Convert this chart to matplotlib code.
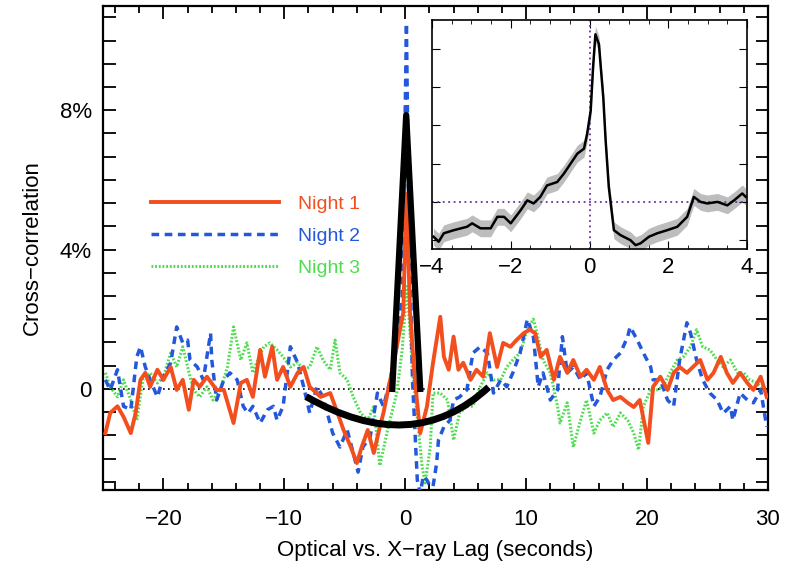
import numpy as np
import matplotlib.pyplot as plt
from matplotlib.path import Path
from matplotlib.patches import PathPatch
from matplotlib.ticker import MultipleLocator, FuncFormatter

plt.rcParams['font.family'] = ['Liberation Sans', 'DejaVu Sans']

# Night 1 (solid orange): lag (s), cross-correlation (%)
n1_lag = [-24.8, -24.4, -23.8, -23.3, -22.7, -22.3, -21.9, -21.5, -21.1, -20.5, -20.0, -19.4,
          -18.9, -18.4, -17.9, -17.5, -17.0, -16.4, -15.6, -15.0, -14.2, -13.6, -13.1, -12.6,
          -12.0, -11.6, -11.0, -10.6, -10.1, -9.5, -8.9, -8.4, -7.9, -7.0, -6.2, -5.6, -5.1,
          -4.5, -4.0, -3.6, -3.1, -2.6, -2.1, -1.8, -1.24, -0.7, -0.16, 0.1, 0.4, 0.8, 1.24,
          1.8, 2.3, 2.9, 3.2, 3.6, 4.0, 4.4, 4.8, 5.4, 5.9, 6.45, 7.0, 7.6, 8.1, 8.7, 9.2, 9.8,
          10.3, 10.75, 11.2, 11.7, 12.3, 12.8, 13.4, 13.9, 14.5, 15.0, 15.6, 16.1, 16.7, 17.2,
          17.8, 18.4, 18.9, 19.4, 20.1, 20.5, 21.1, 21.7, 22.2, 22.7, 23.3, 23.8, 24.4, 25.0,
          25.5, 26.1, 26.6, 27.1, 27.7, 28.3, 28.8, 29.4, 29.9]
n1_cc = [-1.27, -0.69, -0.5, -0.8, -1.27, -0.7, 0.26, 0.46, 0.06, 0.55, 0.26, 0.63,
         -0.03, 0.26, -0.6, 0.26, 0.06, 0.35, -0.03, -0.03, -0.98, 0.17, 0.26, -0.23,
         1.12, 0.35, 1.21, 0.26, 0.63, 0.06, 0.46, 0.63, 0.06, -0.23, -0.12, -0.69, -1.18,
         -1.67, -2.13, -1.67, -1.18, -1.84, -1.09, -0.69, 0.26, 1.21, 2.19, 5.6, 2.19, 0.26, -1.27,
         -0.5, 0.75, 2.07, 0.92, 0.55, 1.5, 0.55, 0.75, 0.26, 0.55, 0.35, 1.6, 0.63, 1.32, 1.21,
         1.4, 1.6, 1.7, 1.6, 0.92, 1.12, 0.26, 0.92, 0.46, 0.83, 0.35, 0.55, 0.26, 0.63, -0.03,
         -0.32, -0.23, -0.4, -0.52, -0.32, -1.55, 0.06, 0.35, -0.03, 0.46, 0.63, 0.46, 0.63,
         0.83, 0.26, 0.46, 0.92, 0.46, 0.17, 0.46, 0.17, -0.03, 0.35, -0.23]

# Night 2 (dashed blue)
n2_lag = [-24.8, -24.4, -23.8, -23.3, -22.7, -22.2, -21.9, -21.5, -21.1, -20.5, -20.0, -19.4,
          -18.9, -18.4, -18.0, -17.8, -17.2, -16.7, -16.1, -16.0, -15.6, -15.0, -14.5, -13.9,
          -13.4, -13.0, -12.6, -12.0, -11.4, -10.9, -10.6, -10.1, -9.5, -8.9, -8.4, -7.9, -7.3,
          -6.8, -6.0, -5.4, -4.8, -4.3, -3.9, -3.5, -2.9, -2.3, -1.8, -1.24, -0.7, -0.25, 0.0,
          0.1, 0.25, 0.6, 0.8, 1.0, 1.24, 1.5, 1.8, 2.07, 2.3, 2.6, 2.75, 3.2, 3.7, 4.0, 4.5,
          5.1, 5.6, 6.2, 6.8, 7.3, 7.9, 8.4, 8.9, 9.5, 10.1, 10.6, 11.0, 11.4, 12.0, 12.6, 13.0,
          13.4, 13.9, 14.5, 15.0, 15.6, 16.1, 16.7, 17.2, 17.8, 18.4, 18.6, 19.2, 19.7, 20.3,
          20.5, 21.1, 21.7, 22.2, 22.7, 23.3, 23.6, 24.1, 24.6, 25.2, 25.8, 26.3, 26.9, 27.1,
          27.7, 28.3, 28.8, 29.4, 29.9]
n2_cc = [0.26, -0.03, 0.55, -0.5, -0.6, 0.92, 1.21, 0.63, 0.26, -0.23, 0.35, 0.75,
         1.78, 1.32, 1.4, 0.83, 0.63, 0.26, 1.6, 0.83, -0.32, 0.26, 0.46, 0.26,
         -0.5, -0.7, -0.5, -0.98, -0.6, -0.5, -0.9, -0.5, 1.21, 0.75, 0.06, -0.69, 0.06,
         -0.23, -1.27, -1.67, -1.18, -1.84, -2.39, -1.67, -1.38, -0.12, -0.5, 0.26, 1.21, 2.65, 8.0,
         10.5, 6.0, 0.26, -1.18, -2.62, -3.0, -2.5, -2.62, -2.8, -2.8, -2.13, -1.47, -1.09, -0.9, -0.32, -0.23,
         -0.03, 1.03, 1.21, 1.03, -0.12, 0.26, 0.06, 0.46, 1.03, 2.0, 1.5, 0.06, 0.46, -0.32, -0.03, 1.5,
         0.46, 0.63, 0.26, 0.46, -0.5, -0.23, 0.55, 0.83, 1.03, 1.5, 1.78, 1.4, 1.03, 0.63,
         0.26, 0.26, -0.32, -0.5, 0.83, 1.9, 1.6, 0.83, 0.26, -0.12, -0.32, -0.7, -0.5, -0.9,
         -0.12, -0.32, -0.4, -0.03, -1.09]

# Night 3 (dotted green)
n3_lag = [-24.8, -24.4, -23.8, -23.3, -22.7, -22.2, -21.7, -21.1, -20.5, -20.0, -19.4, -18.9,
          -18.4, -17.8, -17.5, -17.0, -16.4, -15.9, -15.3, -14.7, -14.2, -13.6, -13.1, -12.6,
          -12.3, -11.7, -11.2, -10.6, -10.1, -9.5, -8.9, -8.4, -7.9, -7.3, -6.8, -6.2, -5.8,
          -5.4, -4.8, -4.3, -3.7, -3.1, -2.6, -2.1, -1.4, -0.7, -0.25, 0.15, 0.6, 1.1, 1.4,
          1.65, 2.07, 2.3, 2.9, 3.5, 4.0, 4.5, 5.1, 5.6, 6.2, 6.8, 7.3, 7.9, 8.4, 8.9, 9.5,
          10.1, 10.6, 10.9, 11.4, 12.0, 12.6, 12.8, 13.4, 13.9, 14.5, 15.0, 15.6, 16.1, 16.7,
          17.2, 17.8, 18.4, 18.9, 19.3, 19.7, 20.3, 20.8, 21.3, 21.9, 22.5, 23.0, 23.6, 24.1,
          24.6, 25.2, 25.8, 26.3, 26.9, 27.5, 28.0, 28.5, 29.1, 29.6]
n3_cc = [0.46, 0.06, -0.23, 0.26, -0.32, -0.9, 0.26, 0.46, 0.17, 0.35, 1.03, 0.63,
         1.21, 0.35, -0.03, -0.23, 0.06, -0.32, -0.03, 0.63, 1.78, 0.83, 1.32, 0.46,
         0.75, 1.21, 1.32, 1.12, 0.92, 0.63, 0.75, 0.55, 0.63, 1.21, 0.83, 0.55, 1.4,
         0.46, 0.26, -0.23, -0.69, -0.9, -0.5, -2.2, -1.09, -0.12, 1.12, 3.0, 0.5, -1.18, -2.24,
         -2.7, -1.67, -0.12, -0.12, -0.32, -1.47, -0.69, -0.5, -0.5, 0.06, 0.46, 0.26, 0.26, 0.63, 0.83, 1.03,
         1.7, 2.0, 1.6, 0.83, 0.46, -0.5, -0.98, -0.4, -1.67, -0.9, -0.32, -1.27, -0.9, -0.69,
         -1.09, -0.69, -0.9, -1.27, -1.75, -0.5, -0.03, -0.03, 0.06, 0.46, 0.83, 0.92, 1.21, 1.7,
         1.21, 1.12, 0.83, 0.63, 0.83, 0.46, 0.46, 0.26, 0.17, -0.03]

# inset: combined cross-correlation, zoomed on +-4 s
ins_lag = [-3.96, -3.83, -3.70, -3.45, -3.11, -2.98, -2.77, -2.51, -2.34, -2.17, -2.0, -1.75,
           -1.58, -1.42, -1.25, -1.08, -0.82, -0.65, -0.48, -0.31, -0.14, -0.06, 0.03, 0.09,
           0.15, 0.24, 0.28, 0.35, 0.41, 0.49, 0.62, 0.79, 1.04, 1.17, 1.30, 1.51, 1.72, 1.97,
           2.23, 2.48, 2.65, 2.82, 2.99, 3.25, 3.50, 3.67, 3.88, 3.97]
ins_cc = [-0.91, -1.04, -0.82, -0.74, -0.65, -0.56, -0.69, -0.69, -0.39, -0.39, -0.56, -0.22,
          0.04, -0.04, 0.13, 0.43, 0.52, 0.74, 1.0, 1.26, 1.39, 1.78, 2.38, 3.51,
          4.38, 4.12, 3.6, 2.73, 1.6, 0.39, -0.74, -0.87, -1.0, -1.13, -1.08, -0.91, -0.82, -0.74,
          -0.65, -0.39, 0.13, 0.0, -0.04, 0.0, -0.09, 0.04, 0.22, 0.13]
ins_err = 0.22

# hand-drawn black marks: spike and curve
spike_x = [-1.07, 0.08, 1.24]
spike_y = [0.0, 7.86, 0.0]
curve_x = [-8.2, 0.6, 6.9]
curve_y = [-0.22, -1.98, 0.05]

c1, c2, c3 = '#F24E1E', '#2458DC', '#4FDD4F'

fig = plt.figure(figsize=(7.86, 5.75), dpi=100)
ax = fig.add_axes([0.131, 0.148, 0.846, 0.842])

ax.axhline(0, color='black', ls=(0, (1, 2)), lw=1.2, zorder=1)
ax.plot(n3_lag, n3_cc, color=c3, lw=2.2, ls=(0, (0.6, 0.6)), label='Night 3', zorder=2)
ax.plot(n2_lag, n2_cc, color=c2, lw=2.5, ls=(0, (2.2, 1.6)), label='Night 2', zorder=3)
ax.plot(n1_lag, n1_cc, color=c1, lw=2.8, label='Night 1', zorder=4)

ax.plot(spike_x, spike_y, color='black', lw=4.5, zorder=6)
curve = Path(list(zip(curve_x, curve_y)), [Path.MOVETO, Path.CURVE3, Path.CURVE3])
ax.add_patch(PathPatch(curve, fill=False, lw=5, color='black', zorder=6))

ax.set_xlim(-25, 30)
ax.set_ylim(-2.9, 11.0)
ax.xaxis.set_major_locator(MultipleLocator(10))
ax.xaxis.set_minor_locator(MultipleLocator(2))
ax.yaxis.set_major_locator(MultipleLocator(2 / 3))
ax.yaxis.set_minor_locator(MultipleLocator(2 / 3))


def pct(v, pos):
    r = round(v, 3)
    if abs(r) < 1e-6:
        return '0'
    if abs(r - round(r)) < 1e-6 and round(r) % 4 == 0:
        return '%d%%' % round(r)
    return ''


ax.yaxis.set_major_formatter(FuncFormatter(pct))
ax.tick_params(which='both', direction='in', top=True, right=True, width=1.3)
ax.tick_params(which='major', length=9, labelsize=16)
ax.tick_params(axis='x', which='major', pad=14)
ax.tick_params(axis='y', which='major', pad=8)
ax.tick_params(which='minor', length=5)
for s in ax.spines.values():
    s.set_linewidth(1.6)
ax.set_xlabel('Optical vs. X\u2212ray Lag (seconds)', fontsize=16, labelpad=7)
ax.set_ylabel('Cross\u2212correlation', fontsize=16, labelpad=12)

h, l = ax.get_legend_handles_labels()
leg = ax.legend(h[::-1], l[::-1], loc='upper left', bbox_to_anchor=(0.06, 0.625),
                frameon=False, fontsize=14, handlelength=6.6, handletextpad=1.0,
                labelspacing=0.75, borderaxespad=0, labelcolor='linecolor')

# inset
ins = fig.add_axes([0.5496, 0.567, 0.4008, 0.398])
lo = [v - ins_err for v in ins_cc]
hi = [v + ins_err for v in ins_cc]
ins.fill_between(ins_lag, lo, hi, color='#BDBDBD', lw=0)
ins.axhline(0, color='#6B2FA0', ls=(0, (1, 2)), lw=1.3)
ins.axvline(0, color='#6B2FA0', ls=(0, (1, 2)), lw=1.3)
ins.plot(ins_lag, ins_cc, color='black', lw=1.8)
ins.set_xlim(-4, 4)
ins.set_ylim(-1.23, 4.75)
ins.xaxis.set_major_locator(MultipleLocator(2))
ins.xaxis.set_minor_locator(MultipleLocator(0.5))
ins.yaxis.set_major_locator(MultipleLocator(1))
ins.set_yticklabels([])
ins.tick_params(which='both', direction='in', top=True, right=True, labelsize=16)
ins.tick_params(which='major', length=6, pad=6)
ins.tick_params(which='minor', length=3)
for s in ins.spines.values():
    s.set_linewidth(1.2)

fig.savefig('out.png', dpi=100)
